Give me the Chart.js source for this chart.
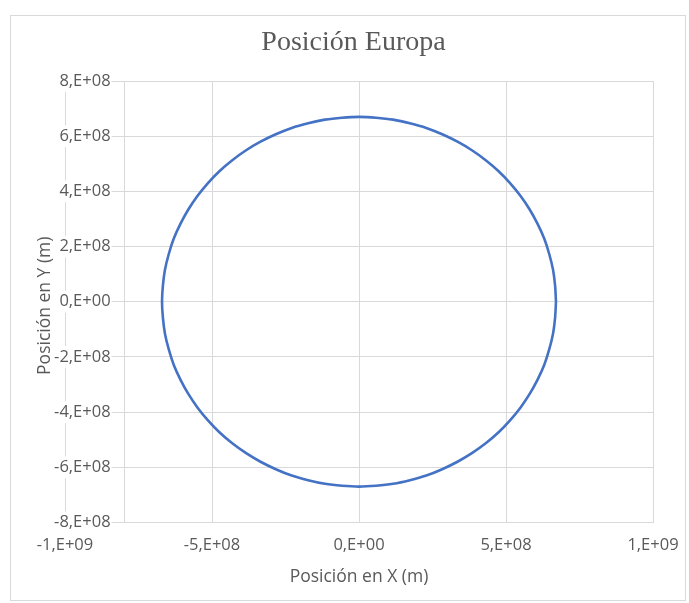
<!DOCTYPE html>
<html>
<head>
<meta charset="utf-8">
<script src="https://cdn.jsdelivr.net/npm/chart.js@4.4.0/dist/chart.umd.min.js"></script>
<style>
  html, body { margin: 0; padding: 0; background: #ffffff; }
  #wrap { width: 689px; height: 603px; position: relative; }
</style>
</head>
<body>
<div id="wrap"><canvas id="chart"></canvas></div>
<script>
// Europa orbit around Jupiter, sampled positions (m)
const orbitX = [
  6.70e8, 6.67e8, 6.60e8, 6.47e8, 6.30e8, 6.07e8, 5.80e8, 5.49e8, 5.13e8, 4.74e8,
  4.31e8, 3.84e8, 3.35e8, 2.83e8, 2.29e8, 1.73e8, 1.16e8, 0.58e8, 0,
  -0.58e8, -1.16e8, -1.73e8, -2.29e8, -2.83e8, -3.35e8, -3.84e8, -4.31e8, -4.74e8,
  -5.13e8, -5.49e8, -5.80e8, -6.07e8, -6.30e8, -6.47e8, -6.60e8, -6.67e8, -6.70e8,
  -6.67e8, -6.60e8, -6.47e8, -6.30e8, -6.07e8, -5.80e8, -5.49e8, -5.13e8, -4.74e8,
  -4.31e8, -3.84e8, -3.35e8, -2.83e8, -2.29e8, -1.73e8, -1.16e8, -0.58e8, 0,
  0.58e8, 1.16e8, 1.73e8, 2.29e8, 2.83e8, 3.35e8, 3.84e8, 4.31e8, 4.74e8,
  5.13e8, 5.49e8, 5.80e8, 6.07e8, 6.30e8, 6.47e8, 6.60e8, 6.67e8, 6.70e8
];
const orbitY = [
  0, 0.58e8, 1.16e8, 1.73e8, 2.29e8, 2.83e8, 3.35e8, 3.84e8, 4.31e8, 4.74e8,
  5.13e8, 5.49e8, 5.80e8, 6.07e8, 6.30e8, 6.47e8, 6.60e8, 6.67e8, 6.70e8,
  6.67e8, 6.60e8, 6.47e8, 6.30e8, 6.07e8, 5.80e8, 5.49e8, 5.13e8, 4.74e8,
  4.31e8, 3.84e8, 3.35e8, 2.83e8, 2.29e8, 1.73e8, 1.16e8, 0.58e8, 0,
  -0.58e8, -1.16e8, -1.73e8, -2.29e8, -2.83e8, -3.35e8, -3.84e8, -4.31e8, -4.74e8,
  -5.13e8, -5.49e8, -5.80e8, -6.07e8, -6.30e8, -6.47e8, -6.60e8, -6.67e8, -6.70e8,
  -6.67e8, -6.60e8, -6.47e8, -6.30e8, -6.07e8, -5.80e8, -5.49e8, -5.13e8, -4.74e8,
  -4.31e8, -3.84e8, -3.35e8, -2.83e8, -2.29e8, -1.73e8, -1.16e8, -0.58e8, 0
];

// Axis ticks and their printed labels
const xTickValues = [-1e9, -5e8, 0, 5e8, 1e9];
const xTickLabels = ['-1,E+09', '-5,E+08', '0,E+00', '5,E+08', '1,E+09'];
const yTickValues = [-8e8, -6e8, -4e8, -2e8, 0, 2e8, 4e8, 6e8, 8e8];
const yTickLabels = ['-8,E+08', '-6,E+08', '-4,E+08', '-2,E+08', '0,E+00', '2,E+08', '4,E+08', '6,E+08', '8,E+08'];

// The vertical axis crosses the horizontal one at this x value
const yAxisCrossing = -8e8;

const chartTitle = 'Posición Europa';
const xTitle = 'Posición en X (m)';
const yTitle = 'Posición en Y (m)';

const GRID = '#d9d9d9';
const TEXT = '#595959';
const LINE = '#4472C4';
const SANS = "'Open Sans', 'Liberation Sans', sans-serif";

function labelFor(values, labels, v) {
  const i = values.findIndex(t => Math.abs(t - v) < 1);
  return i >= 0 ? labels[i] : '';
}

// White page, light frame around the whole chart
const frame = {
  id: 'frame',
  beforeDraw(chart) {
    const ctx = chart.ctx;
    ctx.save();
    ctx.fillStyle = '#ffffff';
    ctx.fillRect(0, 0, chart.width, chart.height);
    ctx.strokeStyle = GRID;
    ctx.lineWidth = 1;
    ctx.strokeRect(10.5, 15.5, 675, 585);
    ctx.restore();
  }
};

// Vertical axis line at the crossing value, drawn under the data
const crossingLine = {
  id: 'crossingLine',
  beforeDatasetsDraw(chart) {
    const ctx = chart.ctx;
    const xs = chart.scales.x;
    const ys = chart.scales.y;
    const px = Math.round(xs.getPixelForValue(yAxisCrossing)) + 0.5;
    ctx.save();
    ctx.strokeStyle = GRID;
    ctx.lineWidth = 1;
    ctx.beginPath();
    ctx.moveTo(px, ys.top);
    ctx.lineTo(px, ys.bottom);
    ctx.stroke();
    ctx.restore();
  }
};

// Chart title and vertical axis title
const titles = {
  id: 'titles',
  afterDraw(chart) {
    const ctx = chart.ctx;
    const ys = chart.scales.y;
    ctx.save();
    ctx.fillStyle = TEXT;
    ctx.textAlign = 'center';
    ctx.textBaseline = 'middle';
    ctx.font = "28px 'Liberation Serif', serif";
    ctx.fillText(chartTitle, 353.5, 43);
    ctx.translate(45, (ys.top + ys.bottom) / 2 + 4);
    ctx.rotate(-Math.PI / 2);
    ctx.font = '17.5px ' + SANS;
    ctx.fillText(yTitle, 0, 0);
    ctx.restore();
  }
};

new Chart(document.getElementById('chart'), {
  type: 'scatter',
  data: {
    datasets: [{
      data: orbitX.map((x, i) => ({ x: x, y: orbitY[i] })),
      showLine: true,
      borderColor: LINE,
      borderWidth: 2.6,
      borderCapStyle: 'round',
      borderJoinStyle: 'round',
      pointRadius: 0,
      tension: 0.33,
      fill: false
    }]
  },
  options: {
    responsive: true,
    maintainAspectRatio: false,
    animation: false,
    layout: { padding: { left: 65, right: 36, top: 81, bottom: 18 } },
    plugins: {
      legend: { display: false },
      tooltip: { enabled: false },
      title: { display: false }
    },
    scales: {
      x: {
        type: 'linear',
        position: 'bottom',
        min: -1e9,
        max: 1e9,
        afterBuildTicks(scale) { scale.ticks = xTickValues.map(v => ({ value: v })); },
        // outer labels may overhang the plot; the layout padding leaves room for them
        afterFit(scale) { scale.paddingLeft = 0; scale.paddingRight = 0; },
        ticks: {
          color: TEXT,
          font: { family: SANS, size: 16.5, lineHeight: 1.1 },
          padding: 14,
          maxRotation: 0,
          callback: v => labelFor(xTickValues, xTickLabels, v)
        },
        grid: { color: GRID, lineWidth: 1, drawTicks: false },
        border: { display: true, color: GRID, width: 1 },
        title: {
          display: true,
          text: xTitle,
          color: TEXT,
          font: { family: SANS, size: 17.5, lineHeight: 0.88 },
          padding: { top: 1, bottom: 0 }
        }
      },
      y: {
        type: 'linear',
        // labels sit just left of the crossing line
        position: { x: -8.45e8 },
        min: -8e8,
        max: 8e8,
        afterBuildTicks(scale) { scale.ticks = yTickValues.map(v => ({ value: v })); },
        ticks: {
          color: TEXT,
          font: { family: SANS, size: 16.5 },
          z: 1,
          showLabelBackdrop: true,
          backdropColor: '#ffffff',
          backdropPadding: 1,
          callback: v => labelFor(yTickValues, yTickLabels, v)
        },
        grid: { color: GRID, lineWidth: 1, drawTicks: false },
        border: { display: false },
        title: { display: false }
      }
    }
  },
  plugins: [frame, crossingLine, titles]
});
</script>
</body>
</html>
